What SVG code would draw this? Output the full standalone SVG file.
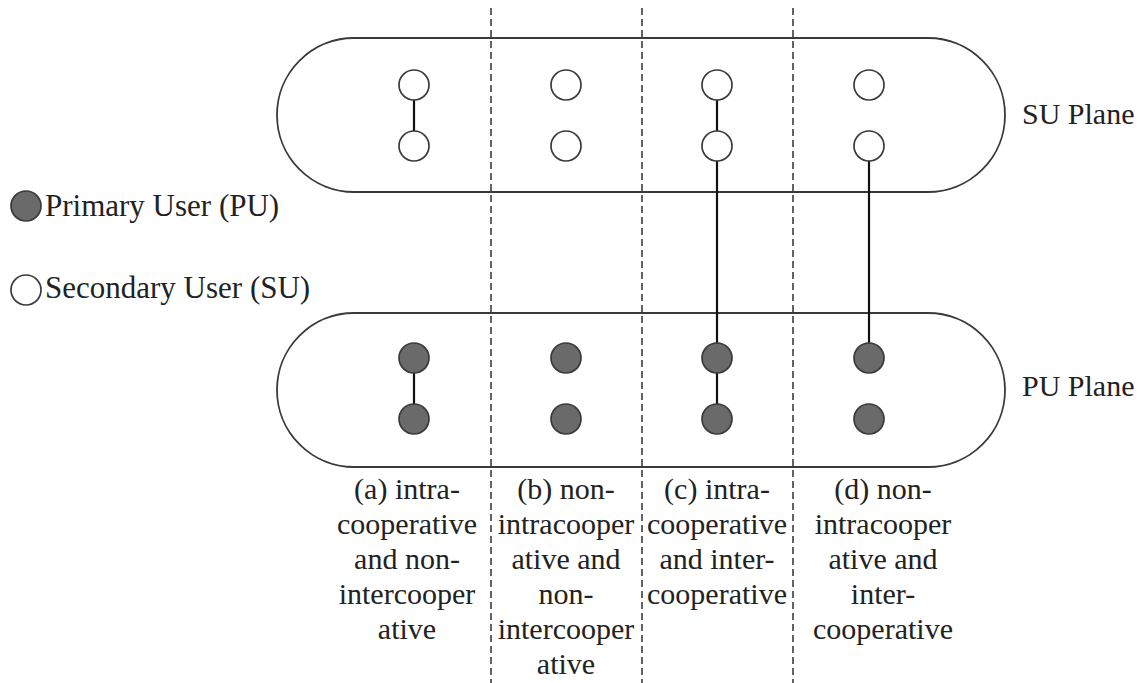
<svg xmlns="http://www.w3.org/2000/svg" width="1146" height="683" viewBox="0 0 1146 683" font-family="'Liberation Serif', 'Times New Roman', Times, serif">
  <style>
    .plane { fill: none; stroke: #3a3a3a; stroke-width: 1.8; }
    .divider { stroke: #222; stroke-width: 1.4; stroke-dasharray: 7 4; }
    .link { stroke: #111; stroke-width: 2.2; }
    .su { fill: #fff; stroke: #3a3a3a; stroke-width: 1.7; }
    .pu { fill: #6a6a6a; stroke: #3a3a3a; stroke-width: 1.7; }
    .t { font-family: 'Liberation Serif', 'Times New Roman', Times, serif; font-size: 30px; fill: #222; }
    .legend-text { font-size: 31px; }
    .cap { text-anchor: middle; }
  </style>
  <rect width="1146" height="683" fill="#fff"/>

  <!-- planes -->
  <g id="su-plane">
    <rect class="plane" x="277" y="38" width="728" height="154" rx="77" ry="77"/>
    <text class="t" x="1022" y="124">SU Plane</text>
  </g>
  <g id="pu-plane">
    <rect class="plane" x="277" y="313" width="728" height="154" rx="77" ry="77"/>
    <text class="t" x="1022" y="396">PU Plane</text>
  </g>

  <!-- column separators -->
  <g id="dividers">
    <line class="divider" x1="491" y1="8" x2="491" y2="683"/>
    <line class="divider" x1="642" y1="8" x2="642" y2="683"/>
    <line class="divider" x1="793" y1="8" x2="793" y2="683"/>
  </g>

  <!-- connectors -->
  <g id="connectors">
    <line class="link" x1="414" y1="85" x2="414" y2="146"/>
    <line class="link" x1="414" y1="358" x2="414" y2="419"/>
    <line class="link" x1="717" y1="85" x2="717" y2="419"/>
    <line class="link" x1="869" y1="146" x2="869" y2="358"/>
  </g>

  <!-- users -->
  <g id="su-a1"><circle class="su" cx="414" cy="85" r="15"/></g>
  <g id="su-a2"><circle class="su" cx="414" cy="146" r="15"/></g>
  <g id="su-b1"><circle class="su" cx="566" cy="85" r="15"/></g>
  <g id="su-b2"><circle class="su" cx="566" cy="146" r="15"/></g>
  <g id="su-c1"><circle class="su" cx="717" cy="85" r="15"/></g>
  <g id="su-c2"><circle class="su" cx="717" cy="146" r="15"/></g>
  <g id="su-d1"><circle class="su" cx="869" cy="85" r="15"/></g>
  <g id="su-d2"><circle class="su" cx="869" cy="146" r="15"/></g>

  <g id="pu-a1"><circle class="pu" cx="414" cy="358" r="15"/></g>
  <g id="pu-a2"><circle class="pu" cx="414" cy="419" r="15"/></g>
  <g id="pu-b1"><circle class="pu" cx="566" cy="358" r="15"/></g>
  <g id="pu-b2"><circle class="pu" cx="566" cy="419" r="15"/></g>
  <g id="pu-c1"><circle class="pu" cx="717" cy="358" r="15"/></g>
  <g id="pu-c2"><circle class="pu" cx="717" cy="419" r="15"/></g>
  <g id="pu-d1"><circle class="pu" cx="869" cy="358" r="15"/></g>
  <g id="pu-d2"><circle class="pu" cx="869" cy="419" r="15"/></g>

  <!-- legend -->
  <g id="legend">
    <circle class="pu" cx="26" cy="206" r="15"/>
    <text class="t legend-text" x="45" y="216">Primary User (PU)</text>
    <circle class="su" cx="26" cy="290" r="15"/>
    <text class="t legend-text" x="45" y="298">Secondary User (SU)</text>
  </g>

  <!-- captions -->
  <g id="caption-a" class="cap">
    <text class="t" x="407" y="499">(a) intra-</text>
    <text class="t" x="407" y="534">cooperative</text>
    <text class="t" x="407" y="569">and non-</text>
    <text class="t" x="407" y="604">intercooper</text>
    <text class="t" x="407" y="639">ative</text>
  </g>
  <g id="caption-b" class="cap">
    <text class="t" x="566" y="499">(b) non-</text>
    <text class="t" x="566" y="534">intracooper</text>
    <text class="t" x="566" y="569">ative and</text>
    <text class="t" x="566" y="604">non-</text>
    <text class="t" x="566" y="639">intercooper</text>
    <text class="t" x="566" y="674">ative</text>
  </g>
  <g id="caption-c" class="cap">
    <text class="t" x="717" y="499">(c) intra-</text>
    <text class="t" x="717" y="534">cooperative</text>
    <text class="t" x="717" y="569">and inter-</text>
    <text class="t" x="717" y="604">cooperative</text>
  </g>
  <g id="caption-d" class="cap">
    <text class="t" x="883" y="499">(d) non-</text>
    <text class="t" x="883" y="534">intracooper</text>
    <text class="t" x="883" y="569">ative and</text>
    <text class="t" x="883" y="604">inter-</text>
    <text class="t" x="883" y="639">cooperative</text>
  </g>
</svg>
